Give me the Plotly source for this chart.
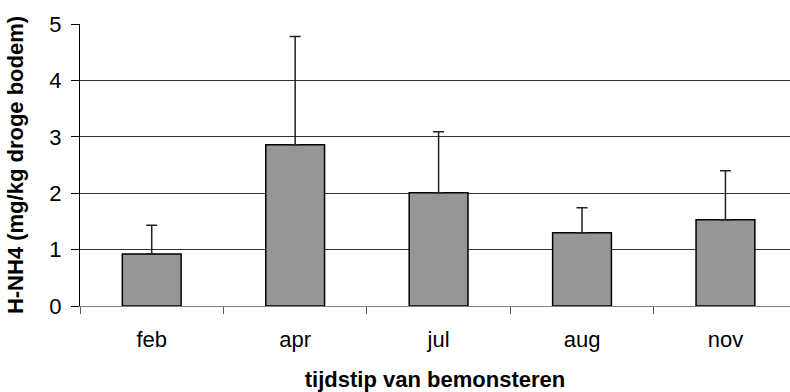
import plotly.graph_objects as go

months = ["feb", "apr", "jul", "aug", "nov"]
nh4 = [0.92, 2.86, 2.01, 1.30, 1.53]
err_up = [0.51, 1.92, 1.08, 0.44, 0.87]
y_ticks = [0, 1, 2, 3, 4, 5]

fig = go.Figure()
fig.add_trace(go.Bar(
    x=months, y=nh4,
    width=0.41,
    marker=dict(color="#969696", line=dict(color="#000000", width=1.5)),
    error_y=dict(type="data", array=err_up, arrayminus=[0]*len(err_up),
                 symmetric=False, color="#222222", thickness=1.5, width=5.5),
))

font = "Liberation Sans, Arial, sans-serif"
fig.update_layout(
    width=790, height=392,
    margin=dict(l=80, r=0, t=24, b=86, autoexpand=False),
    plot_bgcolor="white", paper_bgcolor="white",
    showlegend=False,
    font=dict(family=font, color="#000000"),
)
fig.update_xaxes(
    range=[-0.5, 4.45],
    showline=True, linecolor="#808080", linewidth=1,
    ticks="outside", tickson="boundaries", ticklen=7, tickcolor="#555555",
    tickfont=dict(size=22, family=font), ticklabelstandoff=14,
    title=dict(text="<b>tijdstip van bemonsteren</b>", font=dict(size=22, family=font), standoff=21),
    showgrid=False, automargin=False,
)
fig.update_yaxes(
    range=[0, 5], tickvals=y_ticks,
    showline=True, linecolor="#000000", linewidth=1,
    ticks="outside", ticklen=8, tickcolor="#000000",
    tickfont=dict(size=22, family=font), ticklabelstandoff=5,
    showgrid=True, gridcolor="#333333", gridwidth=1,
    zeroline=False, automargin=False,
    title=dict(text="<b>H-NH4 (mg/kg droge bodem)</b>", font=dict(size=22, family=font), standoff=19),
)
fig.write_html("out.html")
